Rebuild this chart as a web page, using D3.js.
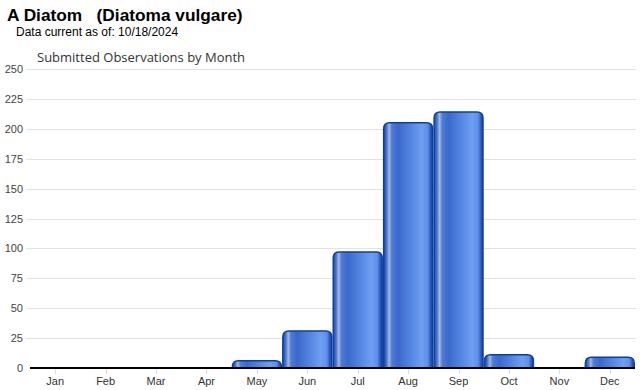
<!DOCTYPE html>
<html>
<head>
  <meta charset="utf-8">
  <script src="https://d3js.org/d3.v7.min.js"></script>
  <style>
    body { margin: 0; background: #fff; }
  </style>
</head>
<body>
<script>
  "use strict";

  // data
  var months = ["Jan", "Feb", "Mar", "Apr", "May", "Jun", "Jul", "Aug", "Sep", "Oct", "Nov", "Dec"];
  var counts = [0, 0, 0, 0, 6, 31, 97, 205, 214, 11, 0, 9];
  var yTicks = [0, 25, 50, 75, 100, 125, 150, 175, 200, 225, 250];

  (function () {
  var width = 640, height = 390;
  var plotLeft = 30, plotRight = 635, plotTop = 69, plotBottom = 368;

  var svg = d3.select("body").append("svg")
      .attr("width", width)
      .attr("height", height);

  // gradient for the glossy bars
  var grad = svg.append("defs").append("linearGradient")
      .attr("id", "barGrad")
      .attr("x1", "0%").attr("x2", "100%").attr("y1", "0%").attr("y2", "0%");
  [[0, "#1c4bab"], [0.06, "#4a74c8"], [0.11, "#a3b7e0"], [0.17, "#4f7bd2"],
   [0.3, "#3a69cc"], [0.55, "#5585e2"], [0.78, "#6e9ff2"], [0.9, "#5f8fe8"],
   [0.96, "#2a58bb"], [1, "#1a45a6"]].forEach(function (s) {
    grad.append("stop").attr("offset", s[0]).attr("stop-color", s[1]);
  });

  var x = d3.scaleBand().domain(months).range([plotLeft, plotRight]).paddingInner(0.03).paddingOuter(0.015);
  var y = d3.scaleLinear().domain([0, 250]).range([plotBottom, plotTop]);

  // gridlines
  svg.append("g").selectAll("line")
      .data(yTicks.filter(function (d) { return d > 0; }))
      .enter().append("line")
      .attr("x1", 26).attr("x2", 636)
      .attr("y1", function (d) { return Math.round(y(d)) + 0.5; })
      .attr("y2", function (d) { return Math.round(y(d)) + 0.5; })
      .style("stroke", "#e2e2e2");

  // y labels
  svg.append("g").selectAll("text")
      .data(yTicks)
      .enter().append("text")
      .attr("x", 23)
      .attr("y", function (d) { return y(d) + 4; })
      .attr("text-anchor", "end")
      .style("font-family", "Arial, 'Liberation Sans', sans-serif")
      .style("font-size", "11px")
      .style("fill", "#444")
      .text(function (d) { return d; });

  // bars
  var r = 6;
  svg.append("g").selectAll("path")
      .data(months.map(function (m, i) { return {m: m, v: counts[i]}; })
        .filter(function (d) { return d.v > 0; }))
      .enter().append("path")
      .attr("d", function (d) {
        var x0 = x(d.m), w = x.bandwidth(), y0 = y(d.v), y1 = y(0);
        var rr = Math.min(r, (y1 - y0));
        return "M" + x0 + "," + y1 +
          "V" + (y0 + rr) +
          "Q" + x0 + "," + y0 + " " + (x0 + rr) + "," + y0 +
          "H" + (x0 + w - rr) +
          "Q" + (x0 + w) + "," + y0 + " " + (x0 + w) + "," + (y0 + rr) +
          "V" + y1 + "Z";
      })
      .style("fill", "url(#barGrad)")
      .style("stroke", "#0c3f9f")
      .style("stroke-width", 1.5);

  // x axis
  var xAxis = svg.append("g").attr("transform", "translate(0," + plotBottom + ")");
  xAxis.append("line")
      .attr("x1", plotLeft).attr("x2", plotRight)
      .style("stroke", "#000").style("stroke-width", 2);
  xAxis.selectAll("line.tick")
      .data(months).enter().append("line")
      .attr("class", "tick")
      .attr("x1", function (d) { return Math.round(x(d) + x.bandwidth() / 2) + 0.5; })
      .attr("x2", function (d) { return Math.round(x(d) + x.bandwidth() / 2) + 0.5; })
      .attr("y1", 1).attr("y2", 6)
      .style("stroke", "#ddd");
  xAxis.selectAll("text")
      .data(months).enter().append("text")
      .attr("x", function (d) { return x(d) + x.bandwidth() / 2; })
      .attr("y", 17)
      .attr("text-anchor", "middle")
      .style("font-family", "Arial, 'Liberation Sans', sans-serif")
      .style("font-size", "11px")
      .style("fill", "#333")
      .text(function (d) { return d; });

  // titles
  svg.append("text")
      .attr("x", 7).attr("y", 21)
      .style("font-family", "Arial, 'Liberation Sans', sans-serif")
      .style("font-size", "17.3px")
      .style("font-weight", "bold")
      .style("white-space", "pre")
      .attr("xml:space", "preserve")
      .text("A Diatom   (Diatoma vulgare)");

  svg.append("text")
      .attr("x", 16).attr("y", 36)
      .style("font-family", "Arial, 'Liberation Sans', sans-serif")
      .style("font-size", "12px")
      .text("Data current as of: 10/18/2024");

  svg.append("text")
      .attr("x", 37).attr("y", 62)
      .style("font-family", "'Open Sans', 'DejaVu Sans', sans-serif")
      .style("font-size", "13px")
      .style("fill", "#333")
      .text("Submitted Observations by Month");
  })();
</script>
</body>
</html>
